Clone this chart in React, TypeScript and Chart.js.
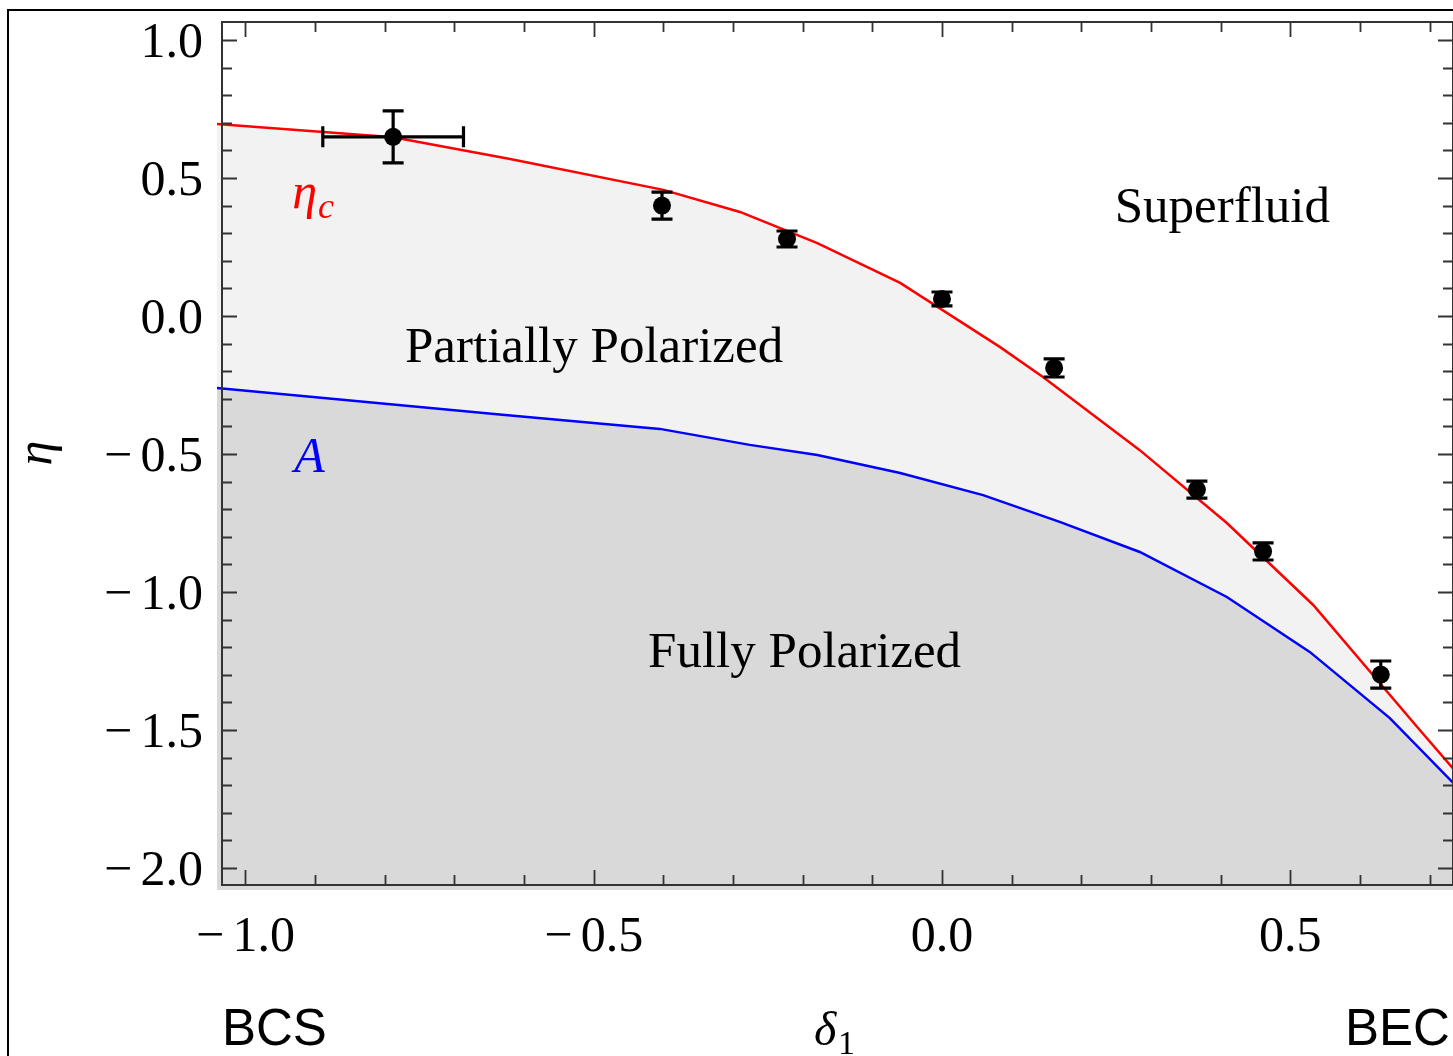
import { useEffect, useRef } from "react";
import { Chart, registerables } from "chart.js";

Chart.register(...registerables);

// Measured transition points with their uncertainties
const pointX = [-0.788, -0.402, -0.2225, 0.0, 0.161, 0.366, 0.461, 0.63];
const pointY = [0.649, 0.4, 0.279, 0.062, -0.188, -0.629, -0.853, -1.299];
const pointErrY = [0.094, 0.049, 0.029, 0.025, 0.033, 0.031, 0.031, 0.049];
const pointErrX = [0.101, 0, 0, 0, 0, 0, 0, 0];

// Critical polarization boundary eta_c
const etaCX = [-1.041, -0.788, -0.62, -0.4, -0.29, -0.179, -0.06, 0.083, 0.145, 0.284, 0.409, 0.533, 0.686, 0.734];
const etaCY = [0.696, 0.648, 0.569, 0.457, 0.377, 0.264, 0.12, -0.112, -0.221, -0.486, -0.75, -1.047, -1.5, -1.64];

// Full-polarization boundary A
const boundAX = [-1.041, -0.635, -0.405, -0.276, -0.179, -0.06, 0.059, 0.169, 0.284, 0.409, 0.528, 0.643, 0.734];
const boundAY = [-0.261, -0.357, -0.409, -0.467, -0.504, -0.569, -0.649, -0.746, -0.855, -1.018, -1.217, -1.457, -1.692];

// Axis ticks
const xMajorTicks = [-1.0, -0.5, 0.0, 0.5];
const xTickLabels = ["\u2212\u20061.0", "\u2212\u20060.5", "0.0", "0.5"];
const xMinorTicks = [-0.9, -0.8, -0.7, -0.6, -0.4, -0.3, -0.2, -0.1, 0.1, 0.2, 0.3, 0.4, 0.6, 0.7];
const yMajorTicks = [1.0, 0.5, 0.0, -0.5, -1.0, -1.5, -2.0];
const yTickLabels = ["1.0", "0.5", "0.0", "\u2212\u20060.5", "\u2212\u20061.0", "\u2212\u20061.5", "\u2212\u20062.0"];
const yMinorTicks = [
  0.9, 0.8, 0.7, 0.6, 0.4, 0.3, 0.2, 0.1, -0.1, -0.2, -0.3, -0.4, -0.6, -0.7, -0.8, -0.9,
  -1.1, -1.2, -1.3, -1.4, -1.6, -1.7, -1.8, -1.9,
];

// Plot window (the shaded regions spill a little past the frame)
const X_MIN = -1.0409;
const X_MAX = 0.7337;
const Y_MIN = -2.0797;
const Y_MAX = 1.0652;
const FRAME_LEFT = -1.0335;
const FRAME_BOTTOM = -2.062;

const SERIF = "'Liberation Serif', 'Times New Roman', serif";
const SANS = "'Liberation Sans', Arial, sans-serif";

const decorPlugin = {
  id: "phaseDecor",
  afterDatasetsDraw(chart: any) {
    const ctx: CanvasRenderingContext2D = chart.ctx;
    const xs = chart.scales.x;
    const ys = chart.scales.y;
    ctx.save();
    ctx.strokeStyle = "#000";
    ctx.lineWidth = 3.2;
    const cap = 10.5;
    for (let i = 0; i < pointX.length; i++) {
      const px = xs.getPixelForValue(pointX[i]);
      const py = ys.getPixelForValue(pointY[i]);
      const top = ys.getPixelForValue(pointY[i] + pointErrY[i]);
      const bot = ys.getPixelForValue(pointY[i] - pointErrY[i]);
      ctx.beginPath();
      ctx.moveTo(px, top);
      ctx.lineTo(px, bot);
      ctx.moveTo(px - cap, top);
      ctx.lineTo(px + cap, top);
      ctx.moveTo(px - cap, bot);
      ctx.lineTo(px + cap, bot);
      if (pointErrX[i] > 0) {
        const l = xs.getPixelForValue(pointX[i] - pointErrX[i]);
        const r = xs.getPixelForValue(pointX[i] + pointErrX[i]);
        ctx.moveTo(l, py);
        ctx.lineTo(r, py);
        ctx.moveTo(l, py - cap);
        ctx.lineTo(l, py + cap);
        ctx.moveTo(r, py - cap);
        ctx.lineTo(r, py + cap);
      }
      ctx.stroke();
    }
    ctx.restore();
  },
  afterDraw(chart: any) {
    const ctx: CanvasRenderingContext2D = chart.ctx;
    const xs = chart.scales.x;
    const ys = chart.scales.y;
    const L = Math.round(xs.getPixelForValue(FRAME_LEFT));
    const R = Math.round(xs.getPixelForValue(X_MAX));
    const T = Math.round(ys.getPixelForValue(Y_MAX));
    const B = Math.round(ys.getPixelForValue(FRAME_BOTTOM));

    ctx.save();
    // outer border
    ctx.strokeStyle = "#000";
    ctx.lineWidth = 2;
    ctx.strokeRect(8, 10, 1500, 1100);

    // frame
    ctx.strokeStyle = "#333";
    ctx.lineWidth = 2;
    ctx.strokeRect(L, T, R - L, B - T);

    // ticks (pointing inward, on all four sides)
    ctx.lineWidth = 1.8;
    ctx.beginPath();
    const xTick = (v: number, len: number) => {
      const p = Math.round(xs.getPixelForValue(v)) + 0.5;
      ctx.moveTo(p, B);
      ctx.lineTo(p, B - len);
      ctx.moveTo(p, T);
      ctx.lineTo(p, T + len);
    };
    const yTick = (v: number, len: number) => {
      const p = Math.round(ys.getPixelForValue(v)) + 0.5;
      ctx.moveTo(L, p);
      ctx.lineTo(L + len, p);
      ctx.moveTo(R, p);
      ctx.lineTo(R - len, p);
    };
    xMajorTicks.forEach((v) => xTick(v, 15));
    xMinorTicks.forEach((v) => xTick(v, 10));
    yMajorTicks.forEach((v) => yTick(v, 15));
    yMinorTicks.forEach((v) => yTick(v, 10));
    ctx.stroke();

    // tick labels
    ctx.fillStyle = "#000";
    ctx.font = `50px ${SERIF}`;
    ctx.textBaseline = "alphabetic";
    ctx.textAlign = "center";
    xMajorTicks.forEach((v, i) => {
      ctx.fillText(xTickLabels[i], xs.getPixelForValue(v), 951);
    });
    ctx.textAlign = "right";
    yMajorTicks.forEach((v, i) => {
      ctx.fillText(yTickLabels[i], 203, ys.getPixelForValue(v) + 17);
    });

    // axis titles
    ctx.textAlign = "left";
    ctx.font = `italic 48px ${SERIF}`;
    ctx.fillText("\u03b4", 814, 1045);
    ctx.font = `34px ${SERIF}`;
    ctx.fillText("1", 838, 1054);

    ctx.save();
    ctx.translate(51, 453);
    ctx.rotate(-Math.PI / 2);
    ctx.textAlign = "center";
    ctx.font = `italic 50px ${SERIF}`;
    ctx.fillText("\u03b7", 0, 0);
    ctx.restore();

    // regime labels below the axis
    ctx.font = `51px ${SANS}`;
    ctx.textAlign = "left";
    ctx.fillText("BCS", 222, 1045);
    ctx.fillText("BEC", 1345, 1045);

    // phase labels inside the plot
    ctx.font = `51px ${SERIF}`;
    ctx.fillText("Superfluid", xs.getPixelForValue(0.248), ys.getPixelForValue(0.341));
    ctx.fillText("Partially Polarized", xs.getPixelForValue(-0.771), ys.getPixelForValue(-0.167));
    ctx.fillText("Fully Polarized", xs.getPixelForValue(-0.422), ys.getPixelForValue(-1.272));

    // curve labels
    ctx.fillStyle = "#ff0000";
    ctx.font = `italic 50px ${SERIF}`;
    const ex = xs.getPixelForValue(-0.933);
    const ey = ys.getPixelForValue(0.391);
    ctx.fillText("\u03b7", ex, ey);
    const ew = ctx.measureText("\u03b7").width;
    ctx.font = `italic 36px ${SERIF}`;
    ctx.fillText("c", ex + ew + 1, ey + 10);

    ctx.fillStyle = "#0000ff";
    ctx.font = `italic 50px ${SERIF}`;
    ctx.fillText("A", xs.getPixelForValue(-0.93), ys.getPixelForValue(-0.565));
    ctx.restore();
  },
};

export default function App() {
  const canvasRef = useRef<HTMLCanvasElement | null>(null);

  useEffect(() => {
    const canvas = canvasRef.current;
    if (!canvas) return;
    const chart = new Chart(canvas, {
      type: "scatter",
      data: {
        datasets: [
          {
            label: "data",
            data: pointX.map((x, i) => ({ x, y: pointY[i] })),
            backgroundColor: "#000",
            borderWidth: 0,
            pointRadius: 9,
            showLine: false,
          },
          {
            label: "A",
            data: boundAX.map((x, i) => ({ x, y: boundAY[i] })),
            showLine: true,
            borderColor: "#0000ff",
            borderWidth: 2.5,
            backgroundColor: "#d9d9d9",
            fill: "start",
            pointRadius: 0,
            tension: 0,
          },
          {
            label: "eta_c",
            data: etaCX.map((x, i) => ({ x, y: etaCY[i] })),
            showLine: true,
            borderColor: "#ff0000",
            borderWidth: 2.5,
            backgroundColor: "#f2f2f2",
            fill: "start",
            pointRadius: 0,
            tension: 0,
          },
        ],
      },
      options: {
        responsive: false,
        animation: false,
        layout: { autoPadding: false, padding: { left: 217, top: 22, right: 0, bottom: 166 } },
        scales: {
          x: { type: "linear", min: X_MIN, max: X_MAX, display: false },
          y: { type: "linear", min: Y_MIN, max: Y_MAX, display: false },
        },
        plugins: {
          legend: { display: false },
          tooltip: { enabled: false },
        },
      },
      plugins: [decorPlugin],
    });
    return () => chart.destroy();
  }, []);

  return (
    <div style={{ position: "absolute", left: 0, top: 0, width: 1453, height: 1056, background: "#fff", overflow: "hidden" }}>
      <canvas ref={canvasRef} width={1453} height={1056} style={{ display: "block" }} />
    </div>
  );
}
